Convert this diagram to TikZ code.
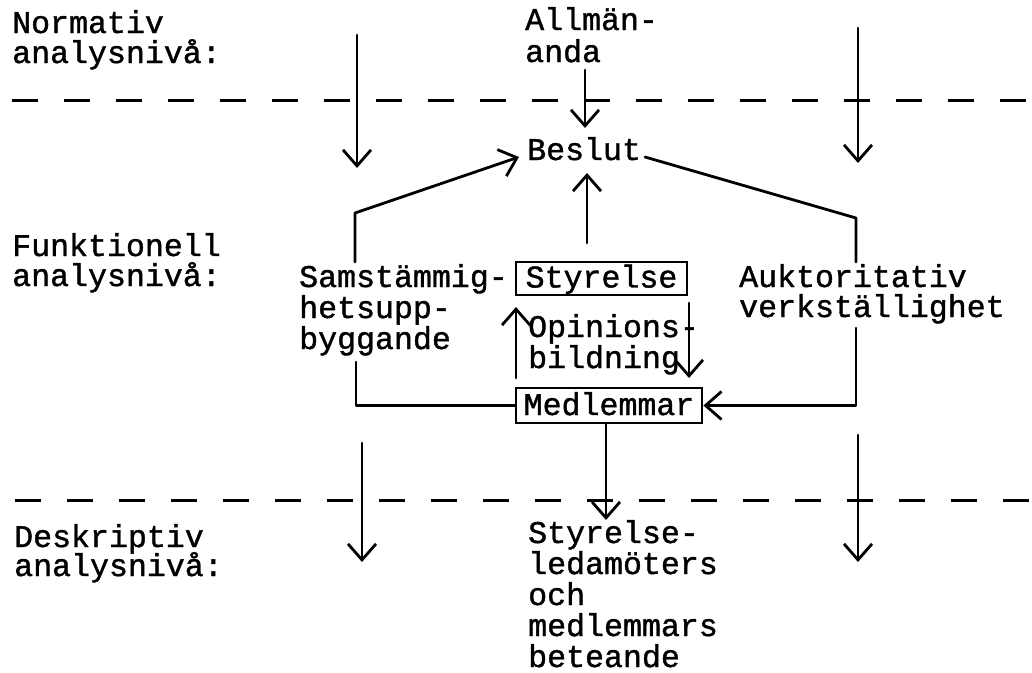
\documentclass[tikz,border=0pt]{standalone}
\usepackage{fontspec}
\newfontfamily\typefont[FakeBold=1.2]{Liberation Mono}
\usetikzlibrary{arrows.meta}
\begin{document}
\begin{tikzpicture}[x=1pt,y=-1pt,
  txt/.style={anchor=base west, inner sep=0pt, font=\typefont\fontsize{31.6}{30}\selectfont},
  conn/.style={line width=2.8pt, line cap=round, line join=round},
  arr/.style={conn, -{Straight Barb[length=16pt,width=28pt]}},
  levelline/.style={line width=3pt, dash pattern=on 26pt off 26pt},
  tbox/.style={draw, line width=2.8pt, inner sep=0pt, font=\typefont\fontsize{31.6}{30}\selectfont, text height=19pt}]
\useasboundingbox (0,0) rectangle (1032,672);
\fill[white] (0,0) rectangle (1032,672);

% level labels
\node[txt] (norm1) at (12,33) {Normativ};
\node[txt] (norm2) at (12,63) {analysnivå:};
\node[txt] (funk1) at (12,256) {Funktionell};
\node[txt] (funk2) at (12,286) {analysnivå:};
\node[txt] (desk1) at (14,547) {Deskriptiv};
\node[txt] (desk2) at (14,576) {analysnivå:};

% central texts
\node[txt] (allm1) at (525,30) {Allmän-};
\node[txt] (allm2) at (525,62) {anda};
\node[txt] (beslut) at (527,160) {Beslut};
\node[txt] (sam1) at (299,287) {Samstämmig-};
\node[txt] (sam2) at (299,318) {hetsupp-};
\node[txt] (sam3) at (299,349) {byggande};
\node[txt] (auk1) at (739,287) {Auktoritativ};
\node[txt] (auk2) at (739,317) {verkställighet};
\node[txt] (op1) at (528,337) {Opinions-};
\node[txt] (op2) at (528,368) {bildning};
\node[txt] (beh1) at (528,543) {Styrelse-};
\node[txt] (beh2) at (528,574) {ledamöters};
\node[txt] (beh3) at (528,605) {och};
\node[txt] (beh4) at (528,636) {medlemmars};
\node[txt] (beh5) at (528,667) {beteande};

% boxes
\node[tbox, text depth=1pt, minimum width=171pt, minimum height=33pt] (sty) at (601.5,278.5) {Styrelse};
\node[tbox, text depth=0pt, minimum width=186pt, minimum height=35pt] (med) at (609,405.5) {Medlemmar};

% level separators
\coordinate (d1a) at (12,100); \coordinate (d1b) at (1032,100);
\coordinate (d2a) at (15,500); \coordinate (d2b) at (1032,500);
\draw[levelline] (d1a) -- (d1b);
\draw[levelline] (d2a) -- (d2b);

% free end points
\coordinate (nl1) at (357,35);  \coordinate (nl2) at (357,168);
\coordinate (al1) at (585,70);  \coordinate (al2) at (585,128);
\coordinate (nr1) at (858,28);  \coordinate (nr2) at (858,163);
\coordinate (st1) at (355,262); \coordinate (st2) at (355,213); \coordinate (st3) at (519,157);
\coordinate (br1) at (645,157); \coordinate (br2) at (856,218); \coordinate (br3) at (856,262);
\coordinate (ak1) at (856,328);
\coordinate (sb1) at (356,362);
\coordinate (up1) at (587,243); \coordinate (up2) at (587,173);
\coordinate (ol1) at (516,378); \coordinate (ol2) at (516,307);
\coordinate (or1) at (689,303); \coordinate (or2) at (689,378);
\coordinate (md2) at (606,520);
\coordinate (dl1) at (362,443); \coordinate (dl2) at (362,562);
\coordinate (dr1) at (858,435); \coordinate (dr2) at (858,562);

% normative arrows
\draw[arr] (nl1) -- (nl2);
\draw[arr] (al1) -- (al2);
\draw[arr] (nr1) -- (nr2);

% functional level
\draw[arr] (st1) -- (st2) -- (st3);
\draw[conn] (br1) -- (br2) -- (br3);
\draw[arr] (ak1) |- (med.east);
\draw[conn] (sb1) |- (med.west);
\draw[arr] (up1) -- (up2);
\draw[arr] (ol1) -- (ol2);
\draw[arr] (or1) -- (or2);
\draw[arr] (med.south -| md2) -- (md2);

% descriptive arrows
\draw[arr] (dl1) -- (dl2);
\draw[arr] (dr1) -- (dr2);
\end{tikzpicture}
\end{document}
